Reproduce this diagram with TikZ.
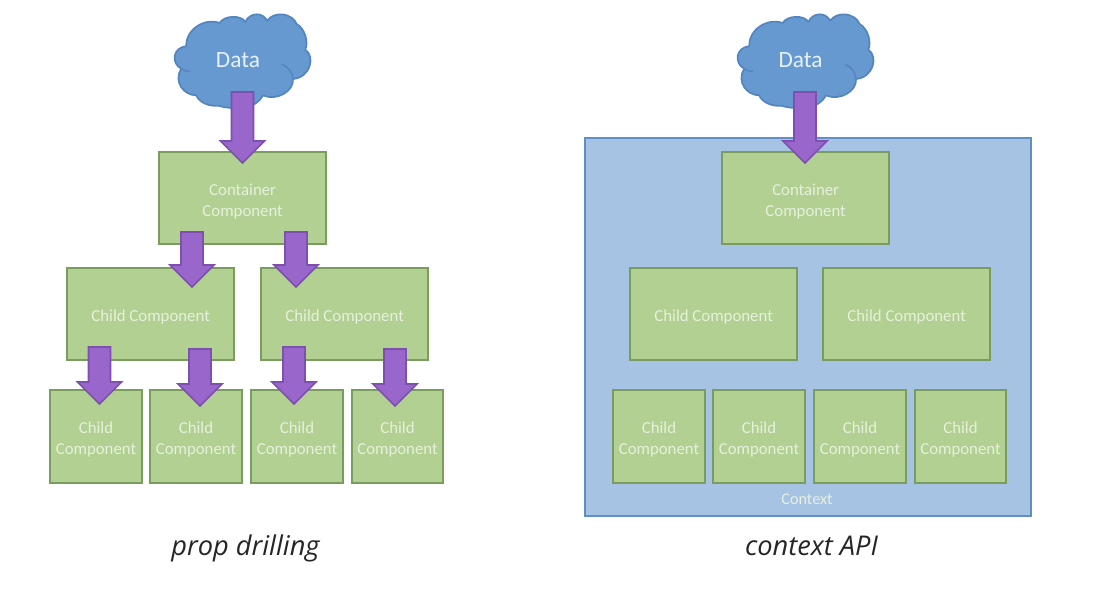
\documentclass[tikz,border=0pt]{standalone}
\usepackage{fontspec}
\setmainfont{Carlito}
\newfontfamily\capfont{Open Sans}
\usetikzlibrary{calc}
\definecolor{boxfill}{HTML}{B1D092}
\definecolor{boxline}{HTML}{7A9C5E}
\definecolor{cloudfill}{HTML}{6699CF}
\definecolor{cloudline}{HTML}{5585BF}
\definecolor{ctxfill}{HTML}{A6C3E3}
\definecolor{ctxline}{HTML}{5F8FC6}
\definecolor{arrowfill}{HTML}{9966CC}
\definecolor{arrowline}{HTML}{7D4FAE}
\definecolor{boxtext}{HTML}{E6F0DC}
\tikzset{
  x=0.75pt,y=-0.75pt,
  comp/.style={draw=boxline,fill=boxfill,line width=1.5pt,text=boxtext,align=center,
    inner sep=0pt,font=\fontsize{12.6}{15.5}\selectfont,anchor=north west,xshift=-0.5pt,yshift=0.5pt},
  containerbox/.style={comp,minimum width=125pt,minimum height=69pt},
  childbox/.style={comp,minimum width=125pt,minimum height=69pt},
  leafbox/.style={comp,minimum width=68.5pt,minimum height=69.5pt},
  ctxbox/.style={draw=ctxline,fill=ctxfill,line width=1.4pt,minimum width=334.5pt,minimum height=283.5pt,anchor=north west,inner sep=0pt,xshift=-0.5pt,yshift=0.5pt},
  cloudbody/.style={draw=cloudline,fill=cloudfill,line width=1.3pt,line join=round},
  cloudinner/.style={draw=cloudline,line width=1.1pt,line cap=round},
  datatext/.style={text=white!85!cloudfill,font=\fontsize{17.5}{21}\selectfont,inner sep=0pt},
  blockarrow/.style={draw=arrowline,fill=arrowfill,line width=1.3pt,line join=miter},
  caption/.style={font=\capfont\itshape\fontsize{20.4}{24}\selectfont,text=black!85,anchor=base,inner sep=0pt},
  ctxlabel/.style={text=boxtext,font=\fontsize{12.2}{15}\selectfont},
}
\newcommand{\lft}{\rule{0pt}{13.2pt}}
\newcommand{\bigarrow}[2]{%
  \path[blockarrow] ($(#1)+(-11,0)$) -- ($(#1)+(11,0)$) -- ($(#2)+(11,-22)$)
    -- ($(#2)+(22,-22)$) -- (#2) -- ($(#2)+(-22,-22)$) -- ($(#2)+(-11,-22)$) -- cycle;}
% cloud outline traced in 1/3-pixel units, origin at the given corner
\newcommand{\cloudshape}[2]{%
\begin{scope}[shift={(#1,#2)},x=0.25pt,y=-0.25pt]
  \path[cloudbody] (55,115) .. controls (52,65) and (110,28) .. (155,45)
    .. controls (168,22) and (220,20) .. (232,42)
    .. controls (245,12) and (285,12) .. (297,38)
    .. controls (320,8) and (372,15) .. (386,48)
    .. controls (410,62) and (422,100) .. (412,125)
    .. controls (442,145) and (428,208) .. (375,213)
    .. controls (378,250) and (325,280) .. (285,262)
    .. controls (265,302) and (205,308) .. (150,293)
    .. controls (122,296) and (92,282) .. (85,262)
    .. controls (48,262) and (15,222) .. (40,182)
    .. controls (10,168) and (12,118) .. (55,115) -- cycle;
  \path[cloudinner] (375,213) .. controls (375,195) and (360,175) .. (343,170);
  \path[cloudinner] (40,182) .. controls (47,188) and (55,190) .. (65,190);
\end{scope}}
\begin{document}
\begin{tikzpicture}
\useasboundingbox (0,0) rectangle (1109,615);
\fill[white] (0,0) rectangle (1109,615);
% left
\cloudshape{168}{8}
\node[datatext] (cloudL) at (238,60) {Data};
\node[containerbox] (contL) at (159,152) {\lft Container\\Component};
\node[childbox] (childLa) at (67,268) {\lft Child Component};
\node[childbox] (childLb) at (261,268) {\lft Child Component};
\node[leafbox] (leafLa) at (50,390) {\lft Child\\Component};
\node[leafbox] (leafLb) at (150,390) {\lft Child\\Component};
\node[leafbox] (leafLc) at (251,390) {\lft Child\\Component};
\node[leafbox] (leafLd) at (351.5,390) {\lft Child\\Component};
\node[caption] (capL) at (245.5,555) {prop drilling};
% right
\node[ctxbox] (ctx) at (585,137.5) {};
\cloudshape{731}{8}
\node[datatext] (cloudR) at (800.5,60) {Data};
\node[containerbox] (contR) at (722,152) {\lft Container\\Component};
\node[childbox] (childRa) at (630,268) {\lft Child Component};
\node[childbox] (childRb) at (823,268) {\lft Child Component};
\node[leafbox] (leafRa) at (613,390) {\lft Child\\Component};
\node[leafbox] (leafRb) at (713,390) {\lft Child\\Component};
\node[leafbox] (leafRc) at (814,390) {\lft Child\\Component};
\node[leafbox] (leafRd) at (914.5,390) {\lft Child\\Component};
\node[ctxlabel] (ctxtext) at (807,499.5) {Context};
\node[caption] (capR) at (811.5,555) {context API};
% arrow ends
\coordinate (a1s) at (242.5,92);   \coordinate (a1e) at (242.5,163);
\coordinate (a2s) at (192,232);  \coordinate (a2e) at (192,287);
\coordinate (a3s) at (296,232);  \coordinate (a3e) at (296,287);
\coordinate (a4s) at (99.5,347);  \coordinate (a4e) at (99.5,404);
\coordinate (a5s) at (200,349);  \coordinate (a5e) at (200,406);
\coordinate (a6s) at (294,347);  \coordinate (a6e) at (294,404);
\coordinate (a7s) at (395,349);  \coordinate (a7e) at (395,406);
\coordinate (a8s) at (805,92);   \coordinate (a8e) at (805,163);
\bigarrow{a1s}{a1e}
\bigarrow{a2s}{a2e}
\bigarrow{a3s}{a3e}
\bigarrow{a4s}{a4e}
\bigarrow{a5s}{a5e}
\bigarrow{a6s}{a6e}
\bigarrow{a7s}{a7e}
\bigarrow{a8s}{a8e}
\end{tikzpicture}
\end{document}
